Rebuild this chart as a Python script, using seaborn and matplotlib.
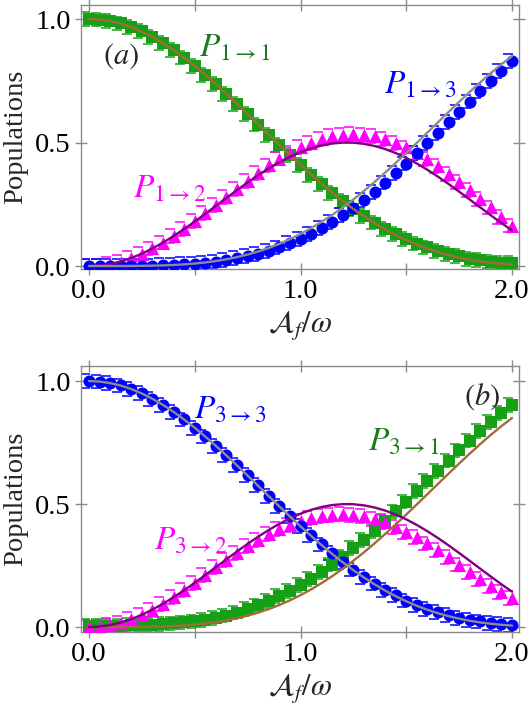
import numpy as np
import pandas as pd
import matplotlib
matplotlib.use("Agg")
import matplotlib.pyplot as plt
from matplotlib.transforms import offset_copy
import seaborn as sns

sns.set_style("ticks")
plt.rcParams["font.family"] = ["Liberation Serif", "DejaVu Serif"]
plt.rcParams["mathtext.fontset"] = "stix"

# ---------------- data ----------------
amp = np.linspace(0.0, 2.0, 41)  # A_f / omega

# theory curves
theory_keep = [1.0, 0.9979, 0.9917, 0.9815, 0.9673, 0.9493, 0.9277, 0.9027, 0.8745, 0.8435,
               0.8100, 0.7740, 0.7363, 0.6971, 0.6566, 0.6154, 0.5737, 0.5319, 0.4903, 0.4494,
               0.4093, 0.3704, 0.3329, 0.2971, 0.2631, 0.2311, 0.2013, 0.1737, 0.1484, 0.1254,
               0.1048, 0.0864, 0.0703, 0.0562, 0.0442, 0.0341, 0.0257, 0.0189, 0.0135, 0.0093, 0.0061]
theory_mid = [0.0, 0.0021, 0.0082, 0.0184, 0.0324, 0.0500, 0.0710, 0.0948, 0.1213, 0.1499,
              0.1800, 0.2115, 0.2436, 0.2757, 0.3074, 0.3382, 0.3675, 0.3948, 0.4198, 0.4420,
              0.4609, 0.4764, 0.4882, 0.4960, 0.4997, 0.4993, 0.4947, 0.4861, 0.4736, 0.4574,
              0.4378, 0.4151, 0.3896, 0.3618, 0.3322, 0.3012, 0.2693, 0.2372, 0.2052, 0.1740, 0.1441]
theory_flip = [0.0, 0.0, 0.0, 0.0001, 0.0003, 0.0007, 0.0014, 0.0025, 0.0042, 0.0067,
               0.0100, 0.0145, 0.0201, 0.0273, 0.0360, 0.0465, 0.0589, 0.0733, 0.0899, 0.1087,
               0.1298, 0.1532, 0.1790, 0.2070, 0.2373, 0.2697, 0.3040, 0.3402, 0.3780, 0.4172,
               0.4574, 0.4986, 0.5402, 0.5820, 0.6236, 0.6647, 0.7049, 0.7439, 0.7813, 0.8167, 0.8498]

# panel (a) markers
a_P11 = [1.000, 0.998, 0.992, 0.982, 0.968, 0.950, 0.928, 0.903, 0.875, 0.844,
         0.810, 0.774, 0.736, 0.697, 0.656, 0.615, 0.573, 0.531, 0.489, 0.448,
         0.408, 0.369, 0.332, 0.296, 0.263, 0.232, 0.203, 0.176, 0.151, 0.129,
         0.109, 0.091, 0.075, 0.061, 0.049, 0.039, 0.030, 0.023, 0.018, 0.014, 0.011]
a_P12 = [0.000, 0.002, 0.008, 0.018, 0.032, 0.050, 0.071, 0.095, 0.121, 0.150,
         0.181, 0.213, 0.246, 0.279, 0.312, 0.345, 0.378, 0.407, 0.435, 0.459,
         0.481, 0.499, 0.514, 0.525, 0.532, 0.534, 0.532, 0.525, 0.514, 0.498,
         0.480, 0.457, 0.432, 0.404, 0.373, 0.341, 0.308, 0.273, 0.237, 0.200, 0.164]
a_P13 = [0.000, 0.000, 0.000, 0.000, 0.000, 0.001, 0.001, 0.003, 0.004, 0.007,
         0.009, 0.014, 0.018, 0.024, 0.031, 0.040, 0.049, 0.061, 0.075, 0.092,
         0.110, 0.130, 0.153, 0.178, 0.205, 0.235, 0.267, 0.301, 0.338, 0.376,
         0.415, 0.457, 0.498, 0.540, 0.583, 0.625, 0.666, 0.708, 0.749, 0.791, 0.830]

# panel (b) markers
b_P33 = [1.000, 0.998, 0.992, 0.982, 0.968, 0.950, 0.928, 0.903, 0.875, 0.844,
         0.810, 0.775, 0.737, 0.698, 0.658, 0.617, 0.576, 0.534, 0.493, 0.452,
         0.412, 0.373, 0.336, 0.300, 0.266, 0.234, 0.204, 0.177, 0.152, 0.129,
         0.108, 0.090, 0.074, 0.060, 0.048, 0.038, 0.030, 0.023, 0.017, 0.012, 0.009]
b_P32 = [0.000, 0.002, 0.008, 0.018, 0.032, 0.050, 0.071, 0.095, 0.121, 0.150,
         0.180, 0.212, 0.244, 0.273, 0.301, 0.328, 0.354, 0.377, 0.398, 0.416,
         0.431, 0.443, 0.452, 0.457, 0.459, 0.456, 0.450, 0.439, 0.426, 0.408,
         0.388, 0.365, 0.340, 0.313, 0.284, 0.254, 0.224, 0.195, 0.167, 0.142, 0.118]
b_P31 = [0.004, 0.004, 0.005, 0.006, 0.007, 0.009, 0.010, 0.013, 0.015, 0.019,
         0.023, 0.030, 0.037, 0.047, 0.059, 0.073, 0.088, 0.105, 0.125, 0.147,
         0.171, 0.196, 0.224, 0.254, 0.286, 0.320, 0.355, 0.392, 0.431, 0.470,
         0.510, 0.552, 0.593, 0.635, 0.677, 0.718, 0.758, 0.797, 0.834, 0.870, 0.903]

err = 0.028

x_ticks = [0.0, 0.5, 1.0, 1.5, 2.0]
x_ticklabels = ["0.0", "", "1.0", "", "2.0"]
y_ticks = [0.0, 0.5, 1.0]
y_ticklabels = ["0.0", "0.5", "1.0"]

# ---------------- styling ----------------
GREEN = "#15a015"
GREEN_TXT = "#1c7a1c"
BLUE = "#0000ff"
MAGENTA = "#ff00ff"
BROWN = "#a46a38"
PURPLE = "#800080"
GRAY = "#8c8c8c"
FRAME = "#8a8a8a"

fig = plt.figure(figsize=(5.30, 7.11), dpi=100)
ax_a = fig.add_axes([0.1528, 0.6217, 0.8264, 0.3713])
ax_b = fig.add_axes([0.1528, 0.1111, 0.8264, 0.3741])


def draw_series(ax, y, color, marker, size):
    trans = offset_copy(ax.transData, fig=fig, x=-4, y=0, units="dots")
    cont = ax.errorbar(amp, y, yerr=err, fmt="none", ecolor=color,
                       capsize=3.6, capthick=1.1, transform=trans, zorder=2)
    for coll in cont[2]:
        coll.set_visible(False)
    df = pd.DataFrame({"x": amp, "y": y})
    sns.scatterplot(data=df, x="x", y="y", ax=ax, color=color, marker=marker,
                    s=size, linewidth=0, zorder=3, legend=False)


def draw_line(ax, y, color):
    df = pd.DataFrame({"x": amp, "y": y})
    sns.lineplot(data=df, x="x", y="y", ax=ax, color=color, lw=1.7, zorder=4,
                 legend=False, errorbar=None)


def style(ax, ylim):
    ax.set_xlim(-0.038, 2.033)
    ax.set_ylim(*ylim)
    ax.set_xticks(x_ticks)
    ax.set_xticklabels(x_ticklabels)
    ax.set_yticks(y_ticks)
    ax.set_yticklabels(y_ticklabels)
    for sp in ax.spines.values():
        sp.set_visible(True)
        sp.set_color(FRAME)
        sp.set_linewidth(1.0)
    ax.tick_params(direction="inout", length=9, width=1.0, color=FRAME,
                   labelsize=20.5, labelcolor="black", top=True, right=True,
                   labeltop=False, labelright=False, pad=3)
    ax.set_ylabel("Populations", fontsize=20.5, labelpad=5)
    ax.set_xlabel(r"$\mathcal{A}_f/\omega$", fontsize=22, labelpad=3)


# panel (a)
draw_series(ax_a, a_P11, GREEN, "s", 85)
draw_series(ax_a, a_P12, MAGENTA, "^", 90)
draw_series(ax_a, a_P13, BLUE, "o", 75)
draw_line(ax_a, theory_keep, BROWN)
draw_line(ax_a, theory_mid, PURPLE)
draw_line(ax_a, theory_flip, GRAY)
style(ax_a, (-0.012, 1.057))

ax_a.text(0.15, 0.85, r"$(a)$", fontsize=22, ha="center", va="center")
ax_a.text(0.69, 0.88, r"$P_{1{\rightarrow}1}$", color=GREEN_TXT, fontsize=24, ha="center", va="center")
ax_a.text(0.38, 0.31, r"$P_{1{\rightarrow}2}$", color=MAGENTA, fontsize=24, ha="center", va="center")
ax_a.text(1.565, 0.73, r"$P_{1{\rightarrow}3}$", color=BLUE, fontsize=24, ha="center", va="center")

# panel (b)
draw_series(ax_b, b_P31, GREEN, "s", 85)
draw_series(ax_b, b_P32, MAGENTA, "^", 90)
draw_series(ax_b, b_P33, BLUE, "o", 75)
draw_line(ax_b, theory_flip, BROWN)
draw_line(ax_b, theory_mid, PURPLE)
draw_line(ax_b, theory_keep, GRAY)
style(ax_b, (-0.02, 1.061))

ax_b.text(1.86, 0.935, r"$(b)$", fontsize=22, ha="center", va="center")
ax_b.text(1.49, 0.75, r"$P_{3{\rightarrow}1}$", color=GREEN_TXT, fontsize=24, ha="center", va="center")
ax_b.text(0.48, 0.35, r"$P_{3{\rightarrow}2}$", color=MAGENTA, fontsize=24, ha="center", va="center")
ax_b.text(0.67, 0.88, r"$P_{3{\rightarrow}3}$", color=BLUE, fontsize=24, ha="center", va="center")

fig.savefig("out.png", dpi=100)
